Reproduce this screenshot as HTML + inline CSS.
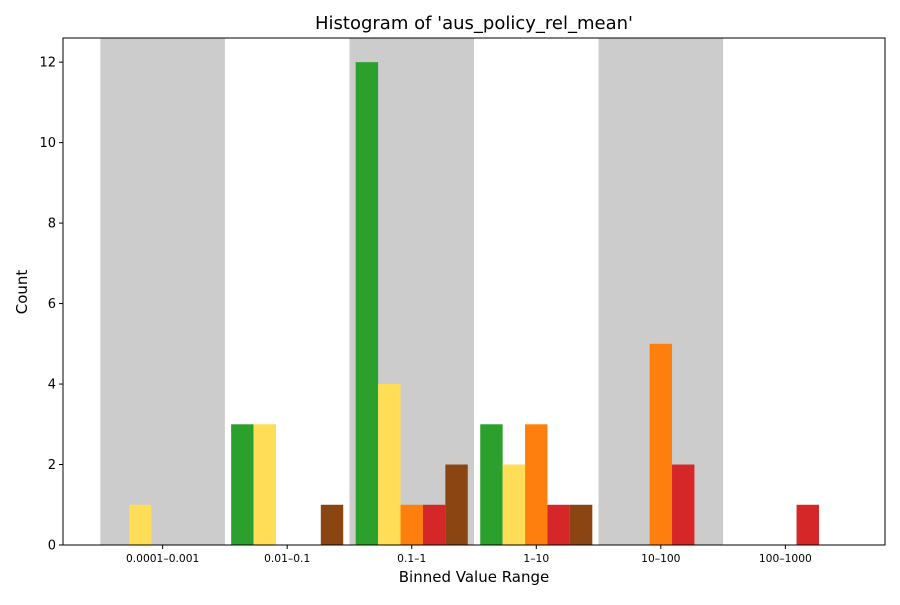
<!DOCTYPE html>
<html><head><meta charset="utf-8"><style>
body{margin:0;background:#fff;}
svg text{font-family:"DejaVu Sans","Liberation Sans",sans-serif;fill:#000;}
</style></head><body>
<svg id="c" width="900" height="600"></svg>
<script>
const categories=["0.0001–0.001","0.01–0.1","0.1–1","1–10","10–100","100–1000"];
const seriesGreen=[0,3,12,3,0,0];
const seriesYellow=[1,3,4,2,0,0];
const seriesOrange=[0,0,1,3,5,0];
const seriesRed=[0,0,1,1,2,1];
const seriesBrown=[0,1,2,1,0,0];
const yTicks=[0,2,4,6,8,10,12];
const seriesList=[["green",seriesGreen,"#2ca02c"],["yellow",seriesYellow,"#ffdd57"],["orange",seriesOrange,"#ff7f0e"],["red",seriesRed,"#d62728"],["brown",seriesBrown,"#8b4513"]];
const L=63,R=885,T=38,B=545;
const x=v=>L+(v+0.8)/6.6*(R-L);
const y=v=>B-v/12.6*(B-T);
const svg=document.getElementById('c');
const NS="http://www.w3.org/2000/svg";
function mk(tag,attrs,parent){const e=document.createElementNS(NS,tag);for(const k in attrs)e.setAttribute(k,attrs[k]);(parent||svg).appendChild(e);return e;}
const unit=x(1)-x(0);
categories.forEach((c,i)=>{
 if(i%2===0){const r=mk('rect',{x:x(i-0.5),y:T,width:unit,height:B-T,fill:'#cccccc'});
 
 }
});
const bw=unit*0.18;
seriesList.forEach((s,si)=>{
 s[1].forEach((v,i)=>{
  if(v<=0)return;
  const cx=x(i)+(si-2)*bw;
  const r=mk('rect',{x:cx-bw/2,y:y(v),width:bw,height:B-y(v),fill:s[2]});
  
  
 });
});
const ax=mk('rect',{x:L,y:T,width:R-L,height:B-T,fill:'none',stroke:'#000','stroke-width':1});


categories.forEach((c,i)=>{
 mk('line',{x1:x(i),x2:x(i),y1:B,y2:B+4,stroke:'#000'});
 const t=mk('text',{x:x(i),y:B+17,'text-anchor':'middle','font-size':'10.7'});t.textContent=c;
 
 
});
yTicks.forEach(v=>{
 mk('line',{x1:L-4,x2:L,y1:y(v),y2:y(v),stroke:'#000'});
 const t=mk('text',{x:L-7,y:y(v)+4.5,'text-anchor':'end','font-size':'13'});t.textContent=v;
 
 
});
let t=mk('text',{x:474,y:29,'text-anchor':'middle','font-size':'18'});t.textContent="Histogram of 'aus_policy_rel_mean'";


t=mk('text',{x:474,y:582,'text-anchor':'middle','font-size':'15'});t.textContent="Binned Value Range";


t=mk('text',{x:27,y:292,'text-anchor':'middle','font-size':'15',transform:'rotate(-90 27 292)'});t.textContent="Count";


</script>
</body></html>
